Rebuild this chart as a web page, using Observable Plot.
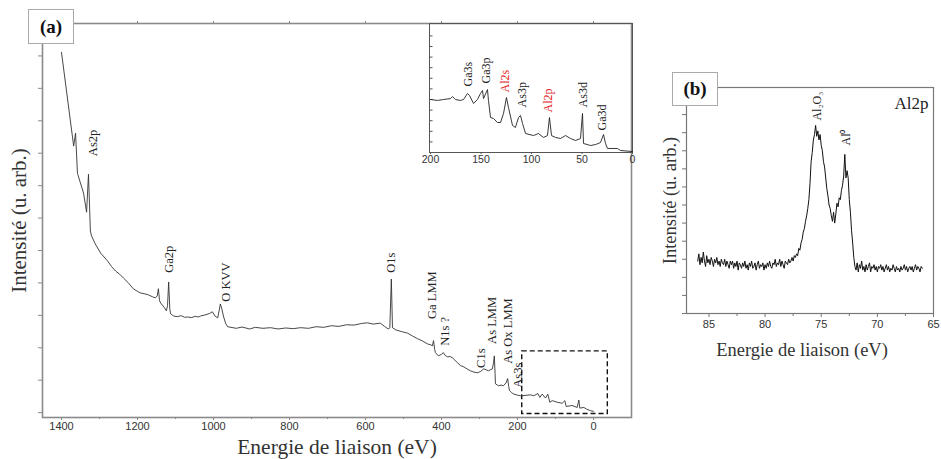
<!DOCTYPE html>
<html><head><meta charset="utf-8">
<script src="https://cdn.jsdelivr.net/npm/d3@7"></script>
<script src="https://cdn.jsdelivr.net/npm/@observablehq/plot@0.6"></script>
<style>
body{margin:0;background:#fff;}
#wrap{position:relative;width:941px;height:459px;overflow:hidden;background:#fff;}
#wrap svg{position:absolute;overflow:visible;}
#wrap g[aria-label="text"] text{font-family:"Liberation Serif","Times New Roman",serif;}
.tag{position:absolute;box-sizing:border-box;border:1px solid #aaa;background:#fff;font:bold 19px "Liberation Serif",serif;color:#111;display:flex;align-items:center;justify-content:center;z-index:5;}
</style></head><body><div id="wrap"></div>
<script>
// ---------- Panel (a): survey spectrum ----------
const surveyEnergy = [1400,1368,1363,1358,1342,1334,1329,1324,1321,1311,1297,1279,1268,1258,1247,1237,1224,1211,1200,1192,1180,1171,1160,1153,1148,1145,1142,1139,1130,1124,1121,1118,1115,1113,1105,1095,1085,1076,1068,1058,1048,1040,1034,1020,1010,1003,996,989,985,982,978,974,968,963,940,925,905,890,870,850,830,810,790,771,750,730,710,690,670,650,630,610,595,580,561,550,543,539,536,532,529,520,505,489,476,463,450,437,428,424,421,418,416,408,400,395,390,384,377,371,365,358,350,343,337,330,324,315,305,297,289,282,276,270,266,263,261,259,258,250,243,237,230,226,223,221,216,211,200,192,187.6,165.8,157,146.5,141.3,135,126.3,120.2,115,108.7,95.6,82.4,75.4,71.9,56.1,43,38.6,36,25.4,18.4,7.9,0];
const surveyIntensity = [11.11,8.22,8.62,7.38,6.77,6.18,7.35,5.60,5.45,5.20,4.92,4.68,4.50,4.37,4.27,4.15,4.00,3.82,3.74,3.69,3.66,3.63,3.57,3.54,3.60,3.82,3.45,3.38,3.25,3.14,3.30,4.03,3.20,3.05,2.98,2.96,2.99,2.94,2.95,2.93,2.97,2.95,2.98,3.02,3.06,3.11,2.98,2.92,3.15,3.35,3.20,2.98,2.75,2.65,2.60,2.64,2.58,2.63,2.60,2.62,2.58,2.61,2.59,2.62,2.60,2.65,2.63,2.68,2.66,2.71,2.70,2.75,2.77,2.73,2.76,2.66,2.60,2.58,2.62,4.12,2.62,2.55,2.50,2.45,2.36,2.28,2.21,2.12,2.09,2.06,2.22,1.95,1.85,1.75,1.80,1.85,1.76,1.72,1.73,1.69,1.62,1.54,1.45,1.42,1.38,1.33,1.29,1.25,1.23,1.27,1.35,1.32,1.29,1.33,1.35,1.55,1.75,1.20,0.89,0.83,0.85,0.83,0.92,1.05,0.80,0.68,0.62,0.58,0.54,0.52,0.52,0.55,0.52,0.59,0.47,0.57,0.45,0.57,0.32,0.37,0.32,0.29,0.37,0.19,0.22,0.16,0.39,0.14,0.16,0.11,0.06,0.04];
const surveyLabels = ["As2p","Ga2p","O KVV","O1s","Ga LMM","N1s ?","C1s","As LMM","As Ox LMM","As3s"];
const surveyLabelEnergy = [1316,1116,968,534,424,390,295,266,224,200];
const surveyLabelIntensity = [7.91,4.31,3.42,4.31,2.89,2.06,1.38,2.12,1.51,0.77];
const surveyTicks = [1400,1200,1000,800,600,400,200,0];
const surveyMinorTicks = [1300,1100,900,700,500,300,100];
const zoomBox = {x1: 187.6, x2: -37.7, y1: -0.04, y2: 1.89};

// ---------- Inset: 200–0 eV ----------
const insetEnergy = [200.0,193.1,187.1,180.2,178.2,175.3,170.3,167.3,163.4,161.4,157.4,153.5,150.5,148.5,147.5,143.6,142.6,140.6,137.6,133.7,130.7,127.7,124.8,122.8,118.8,115.9,112.9,110.9,108.9,105.9,98.0,93.1,88.1,84.2,82.2,80.2,76.2,71.3,66.3,61.4,56.4,51.5,49.5,48.5,41.6,36.6,31.7,28.7,26.7,24.8,14.9,11.9,0];
const insetIntensity = [5.0,4.91,5.0,5.09,5.28,5.0,4.91,5.0,5.57,5.38,4.62,5.0,5.57,5.85,5.09,5.94,4.91,3.30,3.21,2.83,2.83,3.68,5.19,4.25,2.55,2.36,3.30,3.49,2.74,1.79,1.60,1.79,1.42,1.60,3.30,1.60,1.42,1.32,1.60,1.32,1.13,1.32,3.68,0.85,0.66,0.75,0.94,1.70,0.85,0.38,0.38,0.19,0.09];
const insetLabels = ["Ga3s","Ga3p","Al2s","As3p","Al2p","As3d","Ga3d"];
const insetLabelEnergy = [162.4,144.6,125.8,108.9,83.2,48.5,29.7];
const insetLabelIntensity = [6.23,6.51,5.66,4.25,3.77,4.25,2.08];
const insetLabelRed = [false,false,true,false,true,false,false];
const insetTicks = [200,150,100,50,0];
const insetYTicks = [1,2,3,4,5,6,7,8,9,10,11];

// ---------- Panel (b): Al2p high resolution, 86.0 → 66.0 eV, step 0.1 ----------
const al2pStart = 86.0, al2pStep = -0.1;
const al2pIntensity = [
2.9,3.3,2.7,3.1,2.8,3.4,2.9,2.6,3.2,2.8,
3.0,2.7,3.1,2.9,2.6,3.0,2.8,3.1,2.7,2.9,
2.6,3.0,2.8,2.7,3.0,2.6,2.9,2.7,2.5,2.9,
2.7,2.9,2.5,2.8,2.6,2.9,2.4,2.8,2.7,2.5,
2.8,2.6,2.9,2.5,2.7,2.4,2.8,2.6,2.9,2.5,
2.6,2.8,2.4,2.7,2.9,2.5,2.7,2.6,2.8,2.4,
2.7,2.5,2.8,2.6,2.9,2.6,2.5,2.8,2.7,3.0,
2.6,2.8,2.7,3.0,2.6,2.9,2.7,2.5,2.9,2.8,
2.7,3.0,2.8,2.9,3.1,2.9,3.2,3.1,3.3,3.2,
3.6,3.5,3.9,4.1,4.5,4.7,5.1,5.4,5.8,6.3,
7.2,8.4,8.9,9.6,9.9,10.4,9.8,10.1,9.6,9.9,
9.3,9.0,8.4,8.1,7.5,6.9,6.5,6.0,5.8,5.4,
5.1,5.6,5.0,5.5,6.1,5.9,6.4,6.3,6.8,7.1,
7.6,8.8,7.5,7.9,7.5,6.3,5.6,4.6,3.9,3.1,
2.6,2.4,2.8,2.3,2.7,2.5,2.9,2.4,2.6,2.3,
2.7,2.4,2.6,2.8,2.3,2.6,2.5,2.7,2.4,2.6,
2.3,2.6,2.5,2.7,2.4,2.6,2.3,2.5,2.7,2.4,
2.6,2.3,2.5,2.4,2.7,2.5,2.3,2.6,2.4,2.5,
2.3,2.6,2.4,2.5,2.7,2.4,2.6,2.3,2.5,2.6,
2.4,2.6,2.3,2.5,2.7,2.4,2.6,2.5,2.3,2.6,
2.5];
const al2pLabels = ["Al\u2082O\u2083","Al\u2070"];
const al2pLabelEnergy = [75.34,72.76];
const al2pLabelIntensity = [10.67,9.29];
const al2pTicks = [85,80,75,70,65];
const al2pMinorTicks = [82.5,77.5,72.5,67.5];
const al2pYTicks = [0,1,2,3,4,5,6,7,8,9,10,11,12];

// ---------- build tables ----------
const survey = surveyEnergy.map((e,i)=>({e, v: surveyIntensity[i]}));
const surveyLab = surveyLabels.map((t,i)=>({t, e: surveyLabelEnergy[i], v: surveyLabelIntensity[i]}));
const inset = insetEnergy.map((e,i)=>({e, v: insetIntensity[i]}));
const insetLab = insetLabels.map((t,i)=>({t, e: insetLabelEnergy[i], v: insetLabelIntensity[i], red: insetLabelRed[i]}));
const al2p = al2pIntensity.map((v,i)=>({e: +(al2pStart + i*al2pStep).toFixed(2), v}));
const al2pLab = al2pLabels.map((t,i)=>({t, e: al2pLabelEnergy[i], v: al2pLabelIntensity[i]}));

const SERIF = "'Liberation Serif', 'Times New Roman', serif";
const SANS = "'Liberation Sans', Arial, sans-serif";
const AX = "#8a8a8a";
const noFmt = () => "";
const plain = d => String(d);
const wrap = document.getElementById("wrap");

function place(svg, left, top){
  svg.style.left = left+"px"; svg.style.top = top+"px";
  d3.select(svg).selectAll('g[aria-label="text"] text').style("font-family", SERIF);
  wrap.appendChild(svg);
}

// Main panel
const main = Plot.plot({
  width: 650, height: 459,
  marginLeft: 42, marginRight: 19, marginTop: 23, marginBottom: 42,
  style: {background: "transparent", overflow: "visible"},
  x: {domain: [1450, -100], label: null},
  y: {domain: [-0.15, 12], label: null},
  marks: [
    Plot.axisX({ticks: surveyTicks, tickSize: 3, tickPadding: 2, tickFormat: plain, stroke: AX, fill: "#333", fontSize: 11, fontFamily: SANS, label: null}),
    Plot.axisX({ticks: surveyMinorTicks, tickSize: 2, tickFormat: noFmt, stroke: AX, label: null}),
    Plot.axisX({anchor: "top", ticks: surveyTicks, tickSize: 3, tickFormat: noFmt, stroke: AX, label: null}),
    Plot.axisY({ticks: [0,1,2,3,4,5,6,7,8,9,10,11], tickSize: 4, tickFormat: noFmt, stroke: AX, label: null}),
    Plot.frame({stroke: AX, strokeWidth: 1.6}),
    Plot.rect([zoomBox], {x1: "x1", x2: "x2", y1: "y1", y2: "y2", fill: "none", stroke: "#111", strokeWidth: 1.4, strokeDasharray: "5,3"}),
    Plot.line(survey, {x: "e", y: "v", stroke: "#333", strokeWidth: 0.9}),
    Plot.text(surveyLab, {x: "e", y: "v", text: "t", rotate: -90, textAnchor: "start", fontSize: 12.5, fontFamily: SERIF, fill: "#222"}),
    Plot.text(["Energie de liaison (eV)"], {text: d => d, frameAnchor: "bottom", textAnchor: "middle", lineAnchor: "middle", dy: 30, fontSize: 21.5, fontFamily: SERIF, fill: "#333"}),
    Plot.text(["Intensité (u. arb.)"], {text: d => d, frameAnchor: "left", textAnchor: "middle", lineAnchor: "middle", rotate: -90, dx: -23, fontSize: 21, fontFamily: SERIF, fill: "#333"})
  ]
});
place(main, 0, 0);

// Inset
const insetPlot = Plot.plot({
  width: 250, height: 180,
  marginLeft: 29, marginRight: 18, marginTop: 23, marginBottom: 28,
  style: {background: "transparent", overflow: "visible"},
  x: {domain: [201, 0], label: null},
  y: {domain: [0, 12.17], label: null, axis: null},
  marks: [
    Plot.axisX({ticks: insetTicks, tickSize: 2, tickPadding: 1, tickFormat: plain, stroke: "#555", fill: "#333", fontSize: 10.5, fontFamily: SANS, label: null}),
    Plot.ruleY(insetYTicks, {x1: 201, x2: 197.5, stroke: "#555", strokeWidth: 1}),
    Plot.frame({stroke: "#555", strokeWidth: 1}),
    Plot.line(inset, {x: "e", y: "v", stroke: "#222", strokeWidth: 0.9}),
    Plot.text(insetLab, {x: "e", y: "v", text: "t", rotate: -90, textAnchor: "start", fontSize: 12, fontFamily: SERIF, fill: d => d.red ? "#e3201b" : "#222"})
  ]
});
place(insetPlot, 400, 0);

// Panel (b)
const bPlot = Plot.plot({
  width: 291, height: 459,
  marginLeft: 36, marginRight: 8, marginTop: 87, marginBottom: 146,
  style: {background: "transparent", overflow: "visible"},
  x: {domain: [87, 65], label: null},
  y: {domain: [0, 12.5], label: null},
  marks: [
    Plot.axisX({ticks: al2pTicks, tickSize: 4, tickPadding: 3, tickFormat: plain, stroke: "#777", fill: "#333", fontSize: 11, fontFamily: SANS, label: null}),
    Plot.axisX({ticks: al2pMinorTicks, tickSize: 3, tickFormat: noFmt, stroke: "#777", label: null}),
    Plot.axisY({ticks: al2pYTicks, tickSize: 4, tickFormat: noFmt, stroke: "#777", label: null}),
    Plot.frame({stroke: "#777", strokeWidth: 1.2}),
    Plot.line(al2p, {x: "e", y: "v", stroke: "#111", strokeWidth: 1}),
    Plot.text(al2pLab, {x: "e", y: "v", text: "t", rotate: -90, textAnchor: "start", fontSize: 12, fontFamily: SERIF, fill: "#222"}),
    Plot.text(["Al2p"], {text: d => d, frameAnchor: "top-right", textAnchor: "end", lineAnchor: "top", dx: -5, dy: 9, fontSize: 17, fontFamily: SERIF, fill: "#222"}),
    Plot.text(["Energie de liaison (eV)"], {text: d => d, frameAnchor: "bottom", textAnchor: "middle", lineAnchor: "middle", dx: -8, dy: 37, fontSize: 18.5, fontFamily: SERIF, fill: "#333"}),
    Plot.text(["Intensité (u. arb.)"], {text: d => d, frameAnchor: "left", textAnchor: "middle", lineAnchor: "middle", rotate: -90, dx: -16, fontSize: 18.5, fontFamily: SERIF, fill: "#333"})
  ]
});
place(bPlot, 650, 0);

// panel tags
function tag(txt, l, t, w, h){ const d = document.createElement("div"); d.className = "tag"; d.textContent = txt; Object.assign(d.style, {left: l+"px", top: t+"px", width: w+"px", height: h+"px"}); wrap.appendChild(d); }
tag("(a)", 28, 9, 46, 35);
tag("(b)", 672, 72, 46, 34);
</script></body></html>
